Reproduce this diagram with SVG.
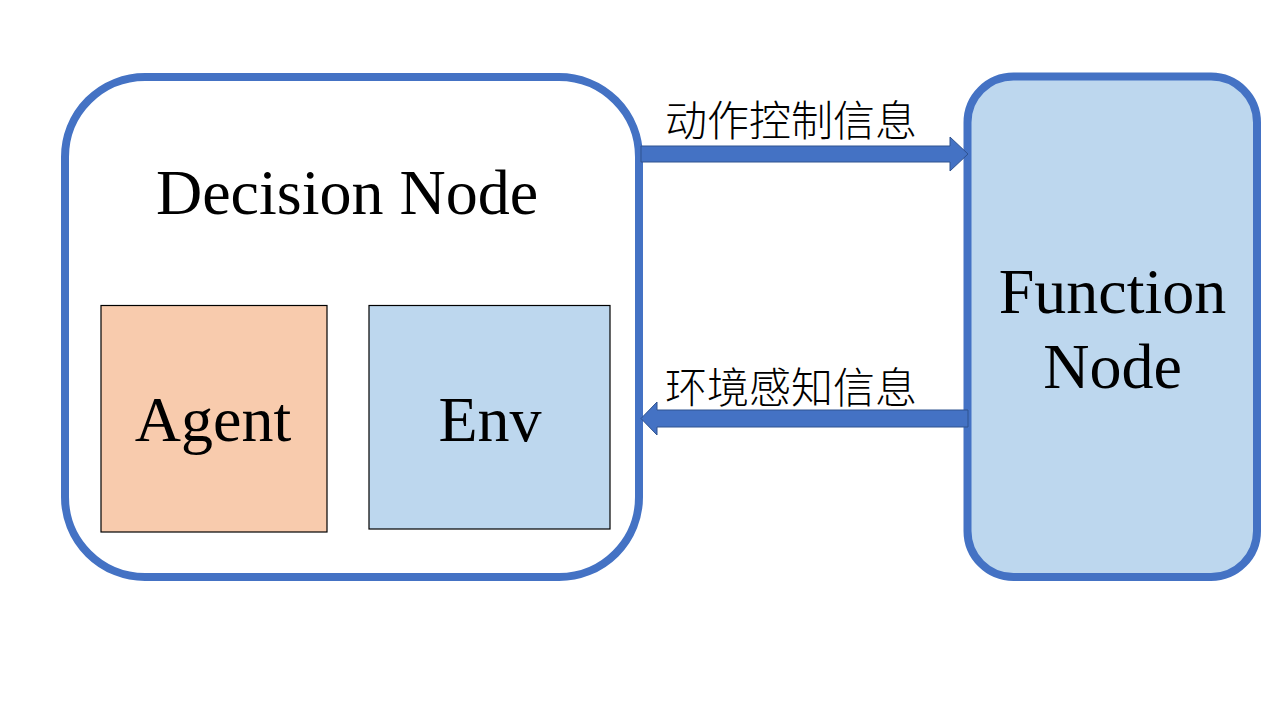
<svg xmlns="http://www.w3.org/2000/svg" width="1280" height="720" viewBox="0 0 1280 720">
  <style>
    .outer { stroke: #4472C4; stroke-width: 8; }
    .inner { stroke: #000000; stroke-width: 1.2; }
    .lat { font-family: "Liberation Serif", "Times New Roman", serif; font-size: 64px; fill: #000000; text-anchor: middle; }
    .cjk { font-family: "Liberation Serif", "Noto Sans CJK SC", sans-serif; font-size: 42px; font-weight: 300; fill: #000000; }
    .arrow { fill: #4472C4; stroke: #2F528F; stroke-width: 1; }
  </style>
  <rect width="1280" height="720" fill="#FFFFFF"/>
  <g id="decision-node">
    <rect class="outer" x="65" y="77" width="574" height="500" rx="80" ry="80" fill="#FFFFFF"/>
    <text class="lat" x="347" y="214">Decision Node</text>
  </g>
  <g id="agent">
    <rect class="inner" x="101" y="305.5" width="226" height="226.5" fill="#F8CBAD"/>
    <text class="lat" x="213" y="441">Agent</text>
  </g>
  <g id="env">
    <rect class="inner" x="369" y="305.5" width="241" height="223.5" fill="#BDD7EE"/>
    <text class="lat" x="490" y="441">Env</text>
  </g>
  <g id="function-node">
    <rect class="outer" x="967.5" y="76.5" width="289.5" height="500.5" rx="46" ry="46" fill="#BDD7EE"/>
    <text class="lat" x="1112.5" y="313">Function</text>
    <text class="lat" x="1112.5" y="388">Node</text>
  </g>
  <g id="connectors">
    <polygon class="arrow" points="641,146 950,146 950,137 968,154 950,171 950,162 641,162"/>
    <text class="cjk" x="665" y="136">动作控制信息</text>
    <polygon class="arrow" points="968,410 657,410 657,402 641,418.5 657,435 657,427 968,427"/>
    <text class="cjk" x="665" y="403">环境感知信息</text>
  </g>
</svg>
